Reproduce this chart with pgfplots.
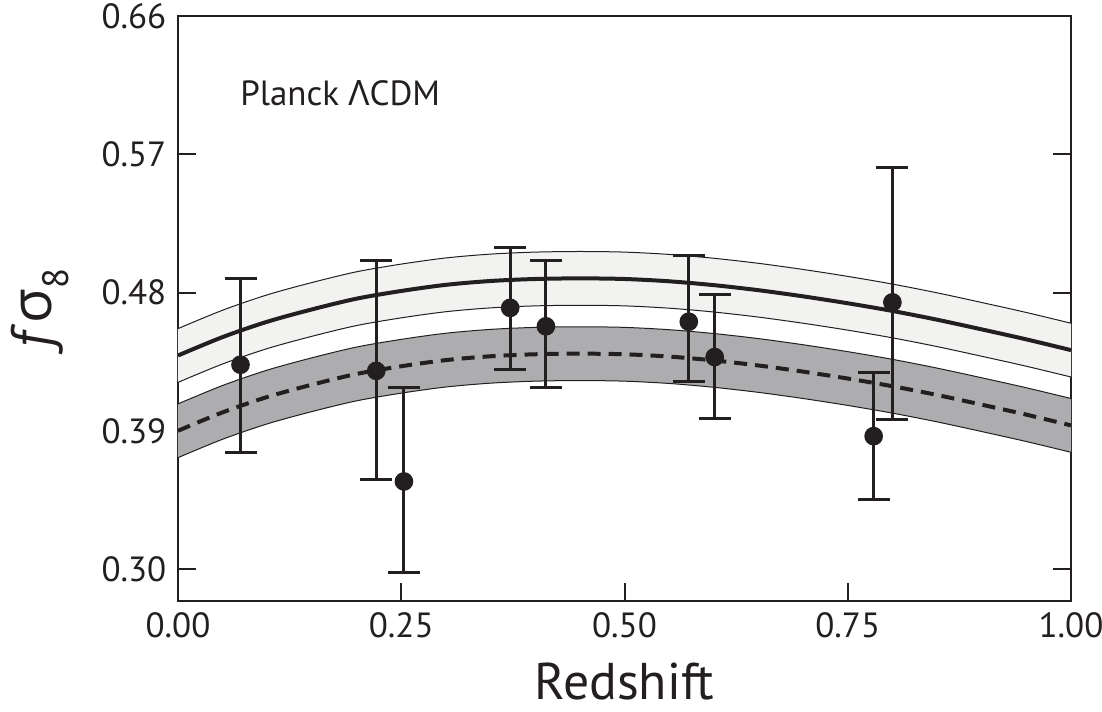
\documentclass[border=0pt]{standalone}
\usepackage{fontspec}
\setmainfont{PT Sans}
\newfontfamily\grk{Open Sans}
\usepackage{pgfplots}
\pgfplotsset{compat=1.18}
\usepackage{pgfplotstable}

\definecolor{ink}{HTML}{231F20}
\definecolor{bandlight}{HTML}{F2F2F1}
\definecolor{banddark}{HTML}{ADADAF}

% model curves: s = Planck LCDM, d = lower model; u/l = band edges
\pgfplotstableread{
z    s      su     sl     d      du     dl
0.00 0.4390 0.4565 0.4215 0.3900 0.4075 0.3725
0.05 0.4510 0.4685 0.4335 0.4020 0.4195 0.3845
0.10 0.4610 0.4785 0.4435 0.4120 0.4295 0.3945
0.15 0.4690 0.4865 0.4515 0.4200 0.4375 0.4025
0.20 0.4760 0.4935 0.4585 0.4270 0.4445 0.4095
0.25 0.4810 0.4985 0.4635 0.4320 0.4495 0.4145
0.30 0.4850 0.5025 0.4675 0.4360 0.4535 0.4185
0.35 0.4875 0.5050 0.4700 0.4385 0.4560 0.4210
0.40 0.4888 0.5063 0.4713 0.4398 0.4573 0.4223
0.45 0.4892 0.5067 0.4717 0.4402 0.4577 0.4227
0.50 0.4888 0.5063 0.4713 0.4398 0.4573 0.4223
0.55 0.4873 0.5048 0.4698 0.4383 0.4558 0.4208
0.60 0.4848 0.5023 0.4673 0.4358 0.4533 0.4183
0.65 0.4815 0.4990 0.4640 0.4325 0.4500 0.4150
0.70 0.4775 0.4950 0.4600 0.4285 0.4460 0.4110
0.75 0.4730 0.4905 0.4555 0.4240 0.4415 0.4065
0.80 0.4680 0.4855 0.4505 0.4190 0.4365 0.4015
0.85 0.4623 0.4798 0.4448 0.4133 0.4308 0.3958
0.90 0.4560 0.4735 0.4385 0.4070 0.4245 0.3895
0.95 0.4495 0.4670 0.4320 0.4005 0.4180 0.3830
1.00 0.4425 0.4600 0.4250 0.3935 0.4110 0.3760
}\models

% band outlines as closed polygons: upper edge left->right, lower edge right->left
\pgfplotstableread{
z    lo     hi
0.00 0.4565 0.4075
0.05 0.4685 0.4195
0.10 0.4785 0.4295
0.15 0.4865 0.4375
0.20 0.4935 0.4445
0.25 0.4985 0.4495
0.30 0.5025 0.4535
0.35 0.5050 0.4560
0.40 0.5063 0.4573
0.45 0.5067 0.4577
0.50 0.5063 0.4573
0.55 0.5048 0.4558
0.60 0.5023 0.4533
0.65 0.4990 0.4500
0.70 0.4950 0.4460
0.75 0.4905 0.4415
0.80 0.4855 0.4365
0.85 0.4798 0.4308
0.90 0.4735 0.4245
0.95 0.4670 0.4180
1.00 0.4600 0.4110
1.00 0.4250 0.3760
0.95 0.4320 0.3830
0.90 0.4385 0.3895
0.85 0.4448 0.3958
0.80 0.4505 0.4015
0.75 0.4555 0.4065
0.70 0.4600 0.4110
0.65 0.4640 0.4150
0.60 0.4673 0.4183
0.55 0.4698 0.4208
0.50 0.4713 0.4223
0.45 0.4717 0.4227
0.40 0.4713 0.4223
0.35 0.4700 0.4210
0.30 0.4675 0.4185
0.25 0.4635 0.4145
0.20 0.4585 0.4095
0.15 0.4515 0.4025
0.10 0.4435 0.3945
0.05 0.4335 0.3845
0.00 0.4215 0.3725
}\bands

% measurements with asymmetric errors
\pgfplotstableread{
z     f      ep     em
0.070 0.433  0.056  0.057
0.222 0.429  0.072  0.071
0.253 0.357  0.061  0.059
0.372 0.470  0.039  0.040
0.412 0.458  0.043  0.040
0.572 0.461  0.043  0.039
0.601 0.438  0.041  0.040
0.779 0.3865 0.0415 0.041
0.800 0.4736 0.088  0.076
}\meas

\begin{document}
\begin{tikzpicture}
\path[use as bounding box] (-53.4pt,-33pt) rectangle (277.2pt,180.3pt);
\begin{axis}[
  scale only axis,
  width=267.9pt, height=175.5pt,
  xmin=0, xmax=1, ymin=0.2792, ymax=0.66,
  axis line style={ink, line width=0.6pt},
  tick style={ink, line width=0.6pt},
  tick align=inside,
  major tick length=5.4pt,
  xtick={0,0.25,0.5,0.75,1},
  xticklabels={0.00,0.25,0.50,0.75,1.00},
  ytick={0.30,0.39,0.48,0.57,0.66},
  yticklabels={0.30,0.39,0.48,0.57,0.66},
  xtick pos=left,
  ytick pos=both,
  ticklabel style={font=\fontsize{10.5}{12}\selectfont, text=ink},
  xlabel={Redshift},
  xlabel style={at={(axis description cs:0.5,-0.138)}, anchor=center, font=\fontsize{15.5}{18}\selectfont, text=ink},
  ylabel={\textit{f}{\grk σ}\raisebox{-0.3em}{\fontsize{11}{12}\selectfont 8}},
  ylabel style={at={(axis description cs:-0.155,0.5)}, anchor=center, font=\fontsize{17}{20}\selectfont, text=ink},
]
% bands
\addplot[fill=bandlight, draw=none] table[x=z,y=lo] {\bands} -- cycle;
\addplot[fill=banddark, draw=none] table[x=z,y=hi] {\bands} -- cycle;
% band edges
\addplot[ink, line width=0.3pt, smooth] table[x=z,y=su] {\models};
\addplot[ink, line width=0.3pt, smooth] table[x=z,y=sl] {\models};
\addplot[ink, line width=0.3pt, smooth] table[x=z,y=du] {\models};
\addplot[ink, line width=0.3pt, smooth] table[x=z,y=dl] {\models};
% central curves
\addplot[ink, line width=1.2pt, smooth] table[x=z,y=s] {\models};
\addplot[ink, line width=1.2pt, smooth, dash pattern=on 3.9pt off 2.4pt] table[x=z,y=d] {\models};
% data
\addplot[ink, only marks, mark=*, mark size=2.6pt, mark options={fill=ink, draw=ink},
  error bars/.cd, y dir=both, y explicit,
  error bar style={ink, line width=0.9pt},
  error mark options={rotate=90, mark size=4.8pt, line width=0.9pt, ink}]
  table[x=z, y=f, y error plus=ep, y error minus=em] {\meas};
\node[anchor=base west, inner sep=0, text=ink, font=\fontsize{10.5}{12}\selectfont]
  at (axis cs:0.069,0.6015) {Planck {\grk Λ}CDM};
\end{axis}
\end{tikzpicture}
\end{document}
